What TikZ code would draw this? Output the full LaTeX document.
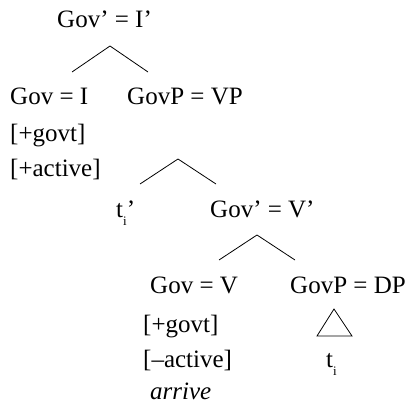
\documentclass[tikz,border=0pt]{standalone}
\usepackage{fontspec}
\setmainfont{Liberation Serif}
\newcommand{\subi}{\raisebox{-8pt}{\fontsize{13}{13}\selectfont i}}
\begin{document}
\begin{tikzpicture}[x=1pt,y=-1pt,
  lbl/.style={anchor=base west,inner sep=0pt,font=\fontsize{25}{30}\selectfont},
  branch/.style={line width=0.8pt}]
\useasboundingbox (0,0) rectangle (412,409);
% labels
\node[lbl] (top) at (57,28) {Gov’ = I’};
\node[lbl] (govi) at (10,105) {Gov = I};
\node[lbl] (govpvp) at (127,105) {GovP = VP};
\node[lbl] (f1) at (10,142) {[+govt]};
\node[lbl] (f2) at (10,176) {[+active]};
\node[lbl] (ti1) at (116,217) {t\subi’};
\node[lbl] (govvbar) at (210,217) {Gov’ = V’};
\node[lbl] (govv) at (150,293) {Gov = V};
\node[lbl] (govpdp) at (290,293) {GovP = DP};
\node[lbl] (f3) at (143,332) {[+govt]};
\node[lbl] (f4) at (143,367) {[–active]};
\node[lbl] (verb) at (150,399) {\itshape arrive};
\node[lbl] (ti2) at (326,367) {t\subi};
% branch points
\coordinate (a1) at (110,46);
\coordinate (l1) at (72,72);
\coordinate (r1) at (148,72);
\coordinate (a2) at (178,159);
\coordinate (l2) at (140,184);
\coordinate (r2) at (216,184);
\coordinate (a3) at (257,235);
\coordinate (l3) at (219,260);
\coordinate (r3) at (295,260);
\draw[branch] (l1) -- (a1) -- (r1);
\draw[branch] (l2) -- (a2) -- (r2);
\draw[branch] (l3) -- (a3) -- (r3);
% triangle over the DP trace
\coordinate (tp) at (334,309);
\coordinate (tl) at (317,336);
\coordinate (tr) at (352,336);
\draw[branch,line join=miter] (tl) -- (tp) -- (tr) -- cycle;
\end{tikzpicture}
\end{document}
